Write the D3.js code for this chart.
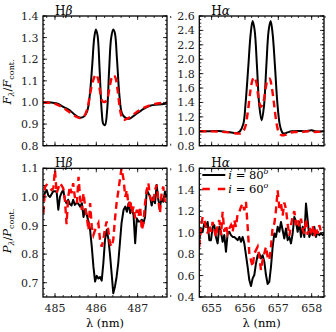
<!DOCTYPE html>
<html><head><meta charset="utf-8">
<script src="https://cdn.jsdelivr.net/npm/d3@7"></script>
<style>body{margin:0;background:#fff}svg{display:block}</style>
</head><body>
<svg id="c" width="336" height="332"></svg>
<script>
// ---------- DATA ----------
const hbFluxLam = [484.71,484.90,485.05,485.20,485.35,485.50,485.60,485.70,485.78,485.84,485.90,485.95,485.99,486.03,486.08,486.13,486.17,486.21,486.26,486.31,486.36,486.41,486.45,486.50,486.56,486.62,486.70,486.80,486.95,487.10,487.30,487.50,487.71];
const hbFlux80 = [1.000,1.000,0.995,0.980,0.965,0.940,0.930,0.935,0.960,1.030,1.170,1.300,1.338,1.310,1.150,0.960,0.900,0.895,0.960,1.150,1.300,1.338,1.320,1.200,1.030,0.950,0.930,0.925,0.945,0.965,0.985,0.990,0.995];
const hbFluxLam60 = [484.71,484.90,485.05,485.20,485.35,485.50,485.60,485.70,485.78,485.85,485.92,485.99,486.04,486.10,486.15,486.21,486.27,486.33,486.40,486.45,486.52,486.58,486.65,486.75,486.90,487.05,487.20,487.40,487.60,487.71];
const hbFlux60 = [1.000,0.998,0.990,0.975,0.955,0.935,0.928,0.935,0.970,1.040,1.100,1.130,1.110,1.040,1.005,1.003,1.020,1.080,1.125,1.120,1.050,0.960,0.920,0.925,0.945,0.965,0.980,0.992,0.998,1.000];
const haFluxLam80 = [654.63,654.90,655.20,655.50,655.75,655.85,655.95,656.02,656.10,656.17,656.23,656.29,656.36,656.43,656.50,656.57,656.64,656.71,656.77,656.83,656.90,656.97,657.04,657.10,657.15,657.25,657.40,657.60,657.80,658.00,658.10,658.37];
const haFlux80 = [1.00,1.00,1.005,0.99,0.975,1.00,1.10,1.40,1.90,2.35,2.53,2.40,1.90,1.35,1.15,1.35,1.90,2.40,2.53,2.35,1.90,1.40,1.10,1.00,0.97,0.98,1.00,1.005,1.00,1.015,1.00,1.00];
const haFluxLam60 = [654.63,654.90,655.20,655.50,655.75,655.90,656.00,656.08,656.16,656.23,656.28,656.34,656.41,656.48,656.55,656.62,656.69,656.74,656.80,656.88,656.95,657.02,657.10,657.20,657.35,657.50,657.70,657.90,658.10,658.37];
const haFlux60 = [1.00,1.00,0.995,0.985,0.97,0.975,1.05,1.25,1.55,1.72,1.75,1.68,1.45,1.34,1.40,1.60,1.72,1.73,1.62,1.35,1.10,0.98,0.945,0.95,0.98,0.99,0.99,1.00,0.99,1.00];
const hbPolLam = [484.72,484.76,484.80,484.84,484.88,484.92,484.96,485.00,485.04,485.08,485.12,485.16,485.20,485.24,485.28,485.32,485.36,485.40,485.44,485.48,485.53,485.57,485.61,485.65,485.69,485.73,485.77,485.81,485.85,485.89,485.93,485.97,486.01,486.05,486.09,486.13,486.17,486.21,486.25,486.29,486.33,486.37,486.41,486.45,486.49,486.53,486.57,486.61,486.66,486.70,486.74,486.78,486.82,486.86,486.90,486.94,486.98,487.02,487.06,487.10,487.14,487.18,487.22,487.26,487.30,487.34,487.38,487.42,487.46,487.50,487.54,487.58,487.62,487.66,487.70];
const hbPol80 = [1.0,1.015,1.024,1.005,1.0,1.01,1.02,1.02,1.018,0.955,1.0,1.015,1.024,0.99,0.978,0.99,0.975,0.97,0.99,0.972,0.98,0.975,0.966,0.978,0.93,0.957,0.937,0.914,0.884,0.826,0.756,0.704,0.724,0.715,0.72,0.707,0.768,0.85,0.884,0.855,0.80,0.733,0.663,0.686,0.72,0.768,0.838,0.908,0.955,0.966,0.948,0.978,0.943,0.96,0.937,0.838,0.925,0.914,0.914,0.92,0.908,0.931,1.024,1.013,1.0,0.97,1.0,0.978,1.042,0.99,0.966,0.995,0.983,1.018,1.0];
const hbPol60 = [0.943,1.036,1.042,1.036,1.03,1.024,1.03,1.094,1.013,1.03,1.048,1.04,1.03,0.99,0.905,1.0,1.036,1.013,1.048,1.0,0.978,1.07,0.99,0.955,1.013,0.966,0.931,0.884,0.978,0.896,0.867,0.884,0.896,0.908,0.85,0.826,0.85,0.89,0.914,0.884,0.838,0.826,0.85,0.92,0.978,1.018,1.06,1.10,1.06,1.0,1.024,0.966,0.99,0.943,0.966,0.925,0.955,0.931,0.966,0.884,0.908,0.978,1.024,1.048,1.0,0.99,0.978,1.024,1.042,0.99,0.943,1.013,1.036,0.978,0.99];
const haPolLam = [654.63,654.68,654.73,654.78,654.83,654.88,654.93,654.98,655.03,655.08,655.13,655.18,655.23,655.28,655.33,655.38,655.43,655.48,655.53,655.58,655.63,655.68,655.73,655.78,655.83,655.88,655.93,655.98,656.03,656.08,656.13,656.18,656.23,656.28,656.33,656.38,656.43,656.48,656.53,656.58,656.63,656.68,656.73,656.78,656.83,656.88,656.93,656.98,657.03,657.08,657.13,657.18,657.23,657.28,657.33,657.38,657.43,657.48,657.53,657.58,657.63,657.68,657.73,657.78,657.83,657.88,657.93,657.98,658.03,658.08,658.13,658.18,658.23,658.28,658.33,658.38];
const haPol80 = [0.93,1.04,1.008,1.085,1.054,1.10,0.93,0.93,1.054,1.07,0.96,0.90,1.054,1.008,0.915,0.977,0.822,0.992,1.008,0.977,0.96,0.96,0.946,0.93,0.96,0.915,0.96,0.90,0.79,0.68,0.558,0.502,0.574,0.605,0.713,0.79,0.806,0.76,0.79,0.729,0.605,0.521,0.543,0.682,0.868,0.992,0.96,1.054,1.008,1.10,1.023,0.946,1.039,0.93,0.96,0.90,0.992,1.147,1.10,1.008,1.10,0.96,1.054,0.96,1.271,1.116,0.96,1.008,0.977,1.054,0.96,1.008,0.977,0.992,0.977,0.992];
const haPol60 = [0.868,1.054,1.147,1.116,1.054,0.992,1.07,1.008,1.10,1.023,0.96,1.07,1.116,0.977,1.194,1.008,1.07,0.992,1.039,1.07,1.008,1.116,1.054,1.178,1.194,1.24,1.271,1.209,1.287,1.054,0.806,0.744,0.682,0.806,0.837,0.868,0.775,0.651,0.744,0.806,0.868,0.775,0.744,0.868,1.054,1.085,1.209,1.395,1.23,1.27,1.16,1.28,1.22,1.08,0.97,1.07,1.15,1.20,1.07,1.12,1.06,1.13,1.03,0.99,1.13,0.98,1.05,1.01,1.07,0.96,1.05,0.99,1.07,1.01,1.02,1.02];

const hbTicks = [485,486,487];
const haTicks = [655,656,657,658];
const legendLabels = ["80", "60"];

// ---------- LAYOUT ----------
const FONT = "DejaVu Serif";
const svg = d3.select("#c");
const L = {x0:43, x1:167}, R = {x0:199.3, x1:324};
const T = {y0:16, y1:145.7}, B = {y0:168.3, y1:297};

const panels = [
  {id:"tl", col:L, row:T, xd:[484.71,487.71], yd:[0.8,1.4], yMaj:0.1, yMin:0.02, xt:hbTicks, title:"β", xl:false,
    s80:[hbFluxLam,hbFlux80], s60:[hbFluxLam60,hbFlux60], smooth:true},
  {id:"tr", col:R, row:T, xd:[654.63,658.37], yd:[0.8,2.6], yMaj:0.2, yMin:0.05, xt:haTicks, title:"α", xl:false,
    s80:[haFluxLam80,haFlux80], s60:[haFluxLam60,haFlux60], smooth:true},
  {id:"bl", col:L, row:B, xd:[484.71,487.71], yd:[0.65,1.1], yMaj:0.1, yMin:0.02, xt:hbTicks, title:"β", xl:true,
    s80:[hbPolLam,hbPol80], s60:[hbPolLam,hbPol60], smooth:false},
  {id:"br", col:R, row:B, xd:[654.63,658.37], yd:[0.4,1.6], yMaj:0.2, yMin:0.05, xt:haTicks, title:"α", xl:true,
    s80:[haPolLam,haPol80], s60:[haPolLam,haPol60], smooth:false, legend:true},
];

function range(a,b,step){const out=[];const n=Math.round((b-a)/step);for(let i=0;i<=n;i++)out.push(+(a+i*step).toFixed(6));return out;}
function txt(sel){return sel.append("text").style("font-family",FONT).attr("fill","#000");}

panels.forEach(p=>{
  const x = d3.scaleLinear().domain(p.xd).range([p.col.x0,p.col.x1]);
  const y = d3.scaleLinear().domain(p.yd).range([p.row.y1,p.row.y0]);
  const g = svg.append("g");
  const cid = "clip-"+p.id;
  svg.append("clipPath").attr("id",cid).append("rect")
    .attr("x",p.col.x0).attr("y",p.row.y0).attr("width",p.col.x1-p.col.x0).attr("height",p.row.y1-p.row.y0);

  const line = d3.line().x(d=>x(d[0])).y(d=>y(d[1])).curve(p.smooth?d3.curveCatmullRom.alpha(0.5):d3.curveLinear);
  const zip = s => s[0].map((v,i)=>[v,s[1][i]]);
  const lg = g.append("g").attr("clip-path",`url(#${cid})`);
  lg.append("path").attr("d",line(zip(p.s80))).attr("fill","none").attr("stroke","#000").attr("stroke-width",2).attr("stroke-linejoin","round");
  lg.append("path").attr("d",line(zip(p.s60))).attr("fill","none").attr("stroke","#ff0000").attr("stroke-width",2.4).attr("stroke-dasharray","7,4.5");

  const yMajT = range(Math.ceil(p.yd[0]/p.yMaj-1e-9)*p.yMaj, p.yd[1], p.yMaj);
  const yMinT = range(Math.ceil(p.yd[0]/p.yMin-1e-9)*p.yMin, p.yd[1], p.yMin);
  const xMinT = range(Math.ceil(p.xd[0]/0.2-1e-9)*0.2, p.xd[1], 0.2);
  const tk = g.append("g").attr("stroke","#000").attr("stroke-width",0.8);
  yMinT.forEach(v=>{const yy=y(v);tk.append("line").attr("x1",p.col.x0).attr("x2",p.col.x0+2).attr("y1",yy).attr("y2",yy);
    tk.append("line").attr("x1",p.col.x1).attr("x2",p.col.x1-2).attr("y1",yy).attr("y2",yy);});
  yMajT.forEach(v=>{const yy=y(v);tk.append("line").attr("x1",p.col.x0).attr("x2",p.col.x0+4).attr("y1",yy).attr("y2",yy);
    tk.append("line").attr("x1",p.col.x1).attr("x2",p.col.x1-4).attr("y1",yy).attr("y2",yy);});
  xMinT.forEach(v=>{const xx=x(v);tk.append("line").attr("x1",xx).attr("x2",xx).attr("y1",p.row.y1).attr("y2",p.row.y1-2);
    tk.append("line").attr("x1",xx).attr("x2",xx).attr("y1",p.row.y0).attr("y2",p.row.y0+2);});
  p.xt.forEach(v=>{const xx=x(v);tk.append("line").attr("x1",xx).attr("x2",xx).attr("y1",p.row.y1).attr("y2",p.row.y1-4);
    tk.append("line").attr("x1",xx).attr("x2",xx).attr("y1",p.row.y0).attr("y2",p.row.y0+4);});

  yMajT.forEach(v=>{txt(g).attr("x",p.col.x0-4.5).attr("y",y(v)+4).attr("text-anchor","end")
    .attr("font-size",11).attr("fill","#222").text(v.toFixed(1));});
  if(p.xl){
    p.xt.forEach(v=>{txt(g).attr("x",x(v)).attr("y",p.row.y1+15).attr("text-anchor","middle")
      .attr("font-size",11).attr("fill","#222").text(v);});
    txt(g).attr("x",(p.col.x0+p.col.x1)/2).attr("y",327).attr("text-anchor","middle").attr("font-size",11.5).text("λ (nm)");
  }
  g.append("rect").attr("x",p.col.x0).attr("y",p.row.y0).attr("width",p.col.x1-p.col.x0).attr("height",p.row.y1-p.row.y0)
    .attr("fill","none").attr("stroke","#000").attr("stroke-width",1.3);
  const t = txt(g).attr("x",p.col.x0+12).attr("y",p.row.y0-1.5).attr("font-size",12);
  t.append("tspan").text("H");
  t.append("tspan").attr("font-style","italic").text(p.title);

  if(p.legend){
    const lx0=p.col.x0+3, lx1=p.col.x0+26;
    [[legendLabels[0],"#000",null,2,175],[legendLabels[1],"#ff0000","7.5,8",2.4,189]].forEach(([lab,col,dash,w,yy])=>{
      const ln=g.append("line").attr("x1",lx0).attr("x2",lx1).attr("y1",yy).attr("y2",yy).attr("stroke",col).attr("stroke-width",w);
      if(dash) ln.attr("stroke-dasharray",dash);
      const tt=txt(g).attr("x",lx1+3).attr("y",yy+4).attr("font-size",11.5);
      tt.append("tspan").attr("font-style","italic").text("i");
      tt.append("tspan").text(" = "+lab);
      tt.append("tspan").attr("font-style","italic").attr("font-size",8).attr("dy",-5).text("o");
    });
  }
});

function ylab(cy, sym){
  const t = txt(svg).attr("transform",`translate(11,${cy}) rotate(-90)`).attr("text-anchor","middle").attr("font-size",11.5);
  t.append("tspan").attr("font-style","italic").text(sym);
  t.append("tspan").attr("font-style","italic").attr("font-size",8).attr("dy",3).text("λ");
  t.append("tspan").attr("dy",-3).text("/");
  t.append("tspan").attr("font-style","italic").text(sym);
  t.append("tspan").attr("font-size",8).attr("dy",3).text("cont.");
}
ylab(82,"F");
ylab(231,"P");
</script>
</body></html>
